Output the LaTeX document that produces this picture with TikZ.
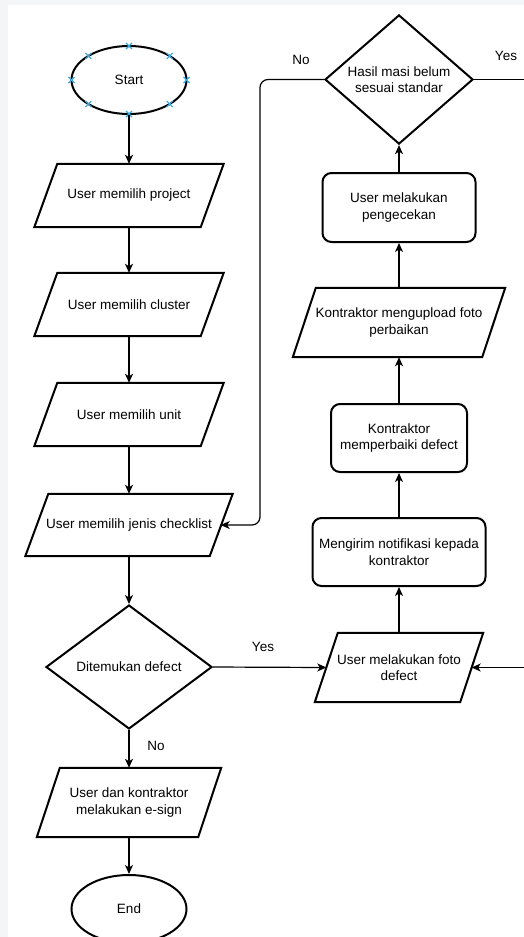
\documentclass[tikz,border=0pt]{standalone}
\usepackage{fontspec}
\setmainfont{Liberation Sans}
\usetikzlibrary{shapes.geometric,arrows.meta,calc}
\definecolor{bggrey}{RGB}{244,245,247}
\definecolor{handle}{RGB}{52,172,226}
\begin{document}
\begin{tikzpicture}[x=1pt,y=-1pt,
  shp/.style={draw=black, line width=2pt},
  wire/.style={draw=black, line width=1.2pt},
  conn/.style={wire, -{Stealth[length=9pt,width=8pt,inset=2.5pt]}},
  txt/.style={font=\fontsize{13.5}{16.5}\selectfont, align=center, text=black},
  io/.style={txt, inner sep=0pt, minimum height=69pt},
  term/.style={txt, shp, ellipse, minimum width=115pt, minimum height=68pt, inner sep=0pt},
  proc/.style={txt, shp, rectangle, rounded corners=9pt, inner sep=0pt, minimum height=68pt},
  dec/.style={txt, shp, diamond, inner sep=0pt},
  lbl/.style={txt},
  handlemark/.style={draw=handle, line width=1.1pt}]
\useasboundingbox (0,0) rectangle (524,937);
\clip (0,0) rectangle (524,937);
\fill[bggrey] (0,0) rectangle (524,937);
\fill[white] (8,5) rectangle (524,937);

% left column
\node[term] (start) at (129,80) {Start};
\node[io, minimum width=189pt, minimum height=63pt] (proj) at (129,195.5) {User memilih project};
\node[io, minimum width=189pt, minimum height=63pt] (clus) at (129,304.5) {User memilih cluster};
\node[io, minimum width=189pt, minimum height=63pt] (unit) at (129,414.5) {User memilih unit};
\node[io, minimum width=207pt, minimum height=62pt] (chk) at (129,525) {User memilih jenis checklist};
\node[dec, minimum width=166pt, minimum height=124pt] (dec1) at (129,667) {Ditemukan defect};
\node[io, minimum width=184pt, minimum height=69pt] (esign) at (129,802.5) {User dan kontraktor\\melakukan e-sign};
\node[term] (endn) at (129,909) {End};

% right column
\node[dec, minimum width=148pt, minimum height=127pt] (dec2) at (399,79.5) {Hasil masi belum\\sesuai standar};
\node[proc, minimum width=153pt, minimum height=69pt] (cek) at (399,207.5) {User melakukan\\pengecekan};
\node[io, minimum width=212pt, minimum height=69pt] (upl) at (399,322.5) {Kontraktor mengupload foto\\perbaikan};
\node[proc, minimum width=136pt] (fix) at (399,438) {Kontraktor\\memperbaiki defect};
\node[proc, minimum width=173pt] (notif) at (399,552) {Mengirim notifikasi kepada\\kontraktor};
\node[io, minimum width=168pt, minimum height=69pt] (foto) at (399,667.5) {User melakukan foto\\defect};

% parallelogram outlines
\foreach \n in {proj,clus,unit,chk,esign,upl,foto}{
  \draw[shp] ([xshift=23pt]\n.north west) -- (\n.north east) -- ([xshift=-23pt]\n.south east) -- (\n.south west) -- cycle;
}

% connection handles on Start
\foreach \dx/\dy in {0/34, 0/-34, 57.5/0, -57.5/0, 40.7/24, -40.7/24, 40.7/-24, -40.7/-24}{
  \draw[handlemark] ($(start.center)+(\dx pt,\dy pt)+(-3pt,-3pt)$) -- ++(6pt,6pt)
                    ($(start.center)+(\dx pt,\dy pt)+(-3pt,3pt)$) -- ++(6pt,-6pt);
}

% named free ends
\coordinate (chkR) at ([xshift=-12pt]chk.east);
\coordinate (fotoL) at ([xshift=11.5pt]foto.west);
\coordinate (fotoR) at ([xshift=-11.5pt]foto.east);
\coordinate (loopL) at (260,79.5);
\coordinate (yesEnd) at (524,79.5);
\coordinate (retStart) at (524,667.5);

% connectors left column
\draw[conn] (start.south) -- (proj.north);
\draw[conn] (proj.south) -- (clus.north);
\draw[conn] (clus.south) -- (unit.north);
\draw[conn] (unit.south) -- (chk.north);
\draw[conn] (chk.south) -- (dec1.north);
\draw[conn] (dec1.south) -- (esign.north);
\draw[conn] (esign.south) -- (endn.north);
\draw[conn] (dec1.east) -- (fotoL);

% connectors right column
\draw[conn] (foto.north) -- (notif.south);
\draw[conn] (notif.north) -- (fix.south);
\draw[conn] (fix.north) -- (upl.south);
\draw[conn] (upl.north) -- (cek.south);
\draw[conn] (cek.north) -- (dec2.south);
\draw[conn, rounded corners=8pt] (dec2.west) -- (loopL) -- (loopL |- chkR) -- (chkR);
\draw[wire] (dec2.east) -- (yesEnd);
\draw[conn] (retStart) -- (fotoR);

% labels
\node[lbl] (lno2) at (301,60) {No};
\node[lbl] (lyes2) at (506,56) {Yes};
\node[lbl] (lyes1) at (263,647) {Yes};
\node[lbl] (lno1) at (156,746) {No};
\end{tikzpicture}
\end{document}
